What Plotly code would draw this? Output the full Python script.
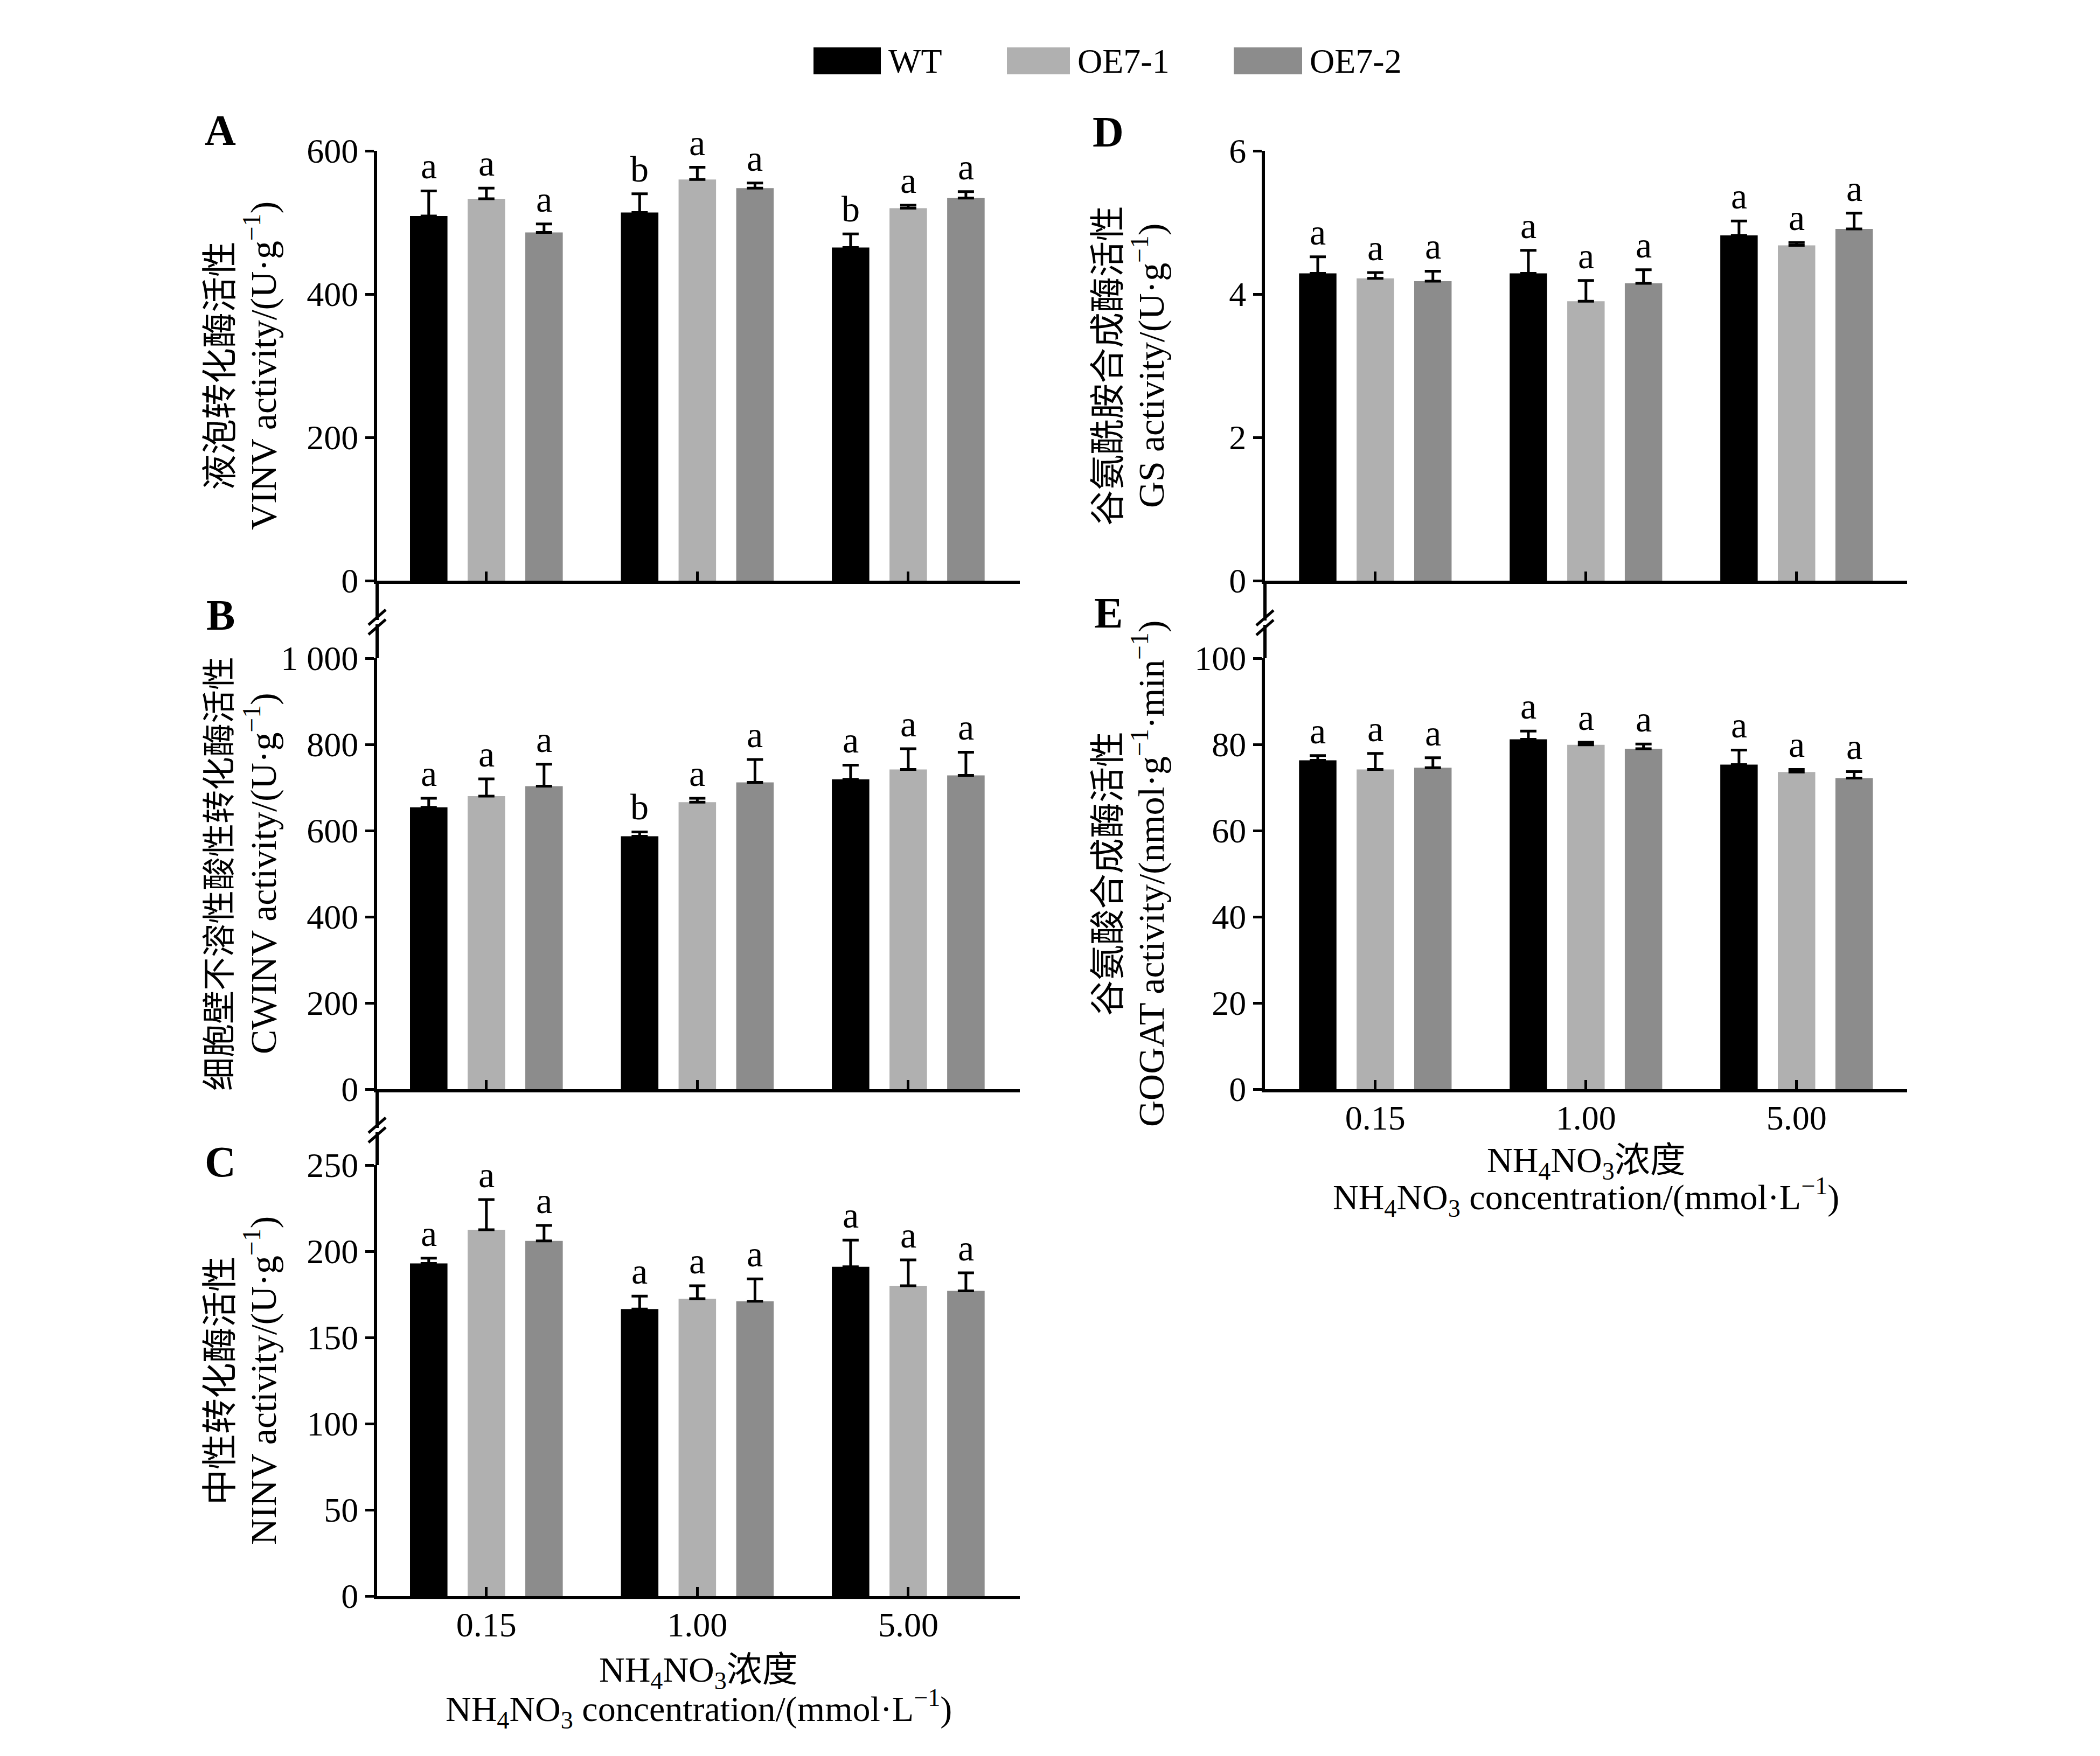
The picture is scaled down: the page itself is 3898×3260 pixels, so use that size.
import plotly.graph_objects as go

W, H = 3898, 3260

# ---- data ----
concentrations = ['0.15', '1.00', '5.00']
lines = ['WT', 'OE7-1', 'OE7-2']
colors = ['#000000', '#b0b0b0', '#8c8c8c']

# A  VINV (U/g)   rows: WT, OE7-1, OE7-2 ; cols: 0.15, 1.00, 5.00
vinv_mean = [[509, 514, 465], [533, 560, 520], [486, 548, 534]]
vinv_err = [[35, 26, 19], [15, 17, 4], [12, 7, 9]]
vinv_sig = [['a', 'b', 'b'], ['a', 'a', 'a'], ['a', 'a', 'a']]

# B  CWINV (U/g)
cwinv_mean = [[654, 587, 719], [680, 666, 742], [703, 712, 728]]
cwinv_err = [[21, 10, 33], [40, 9, 48], [51, 53, 54]]
cwinv_sig = [['a', 'b', 'a'], ['a', 'a', 'a'], ['a', 'a', 'a']]

# C  NINV (U/g)
ninv_mean = [[193, 166.5, 191], [212.5, 172.5, 180], [206, 171, 177]]
ninv_err = [[3, 7.5, 15.5], [17.5, 7.5, 15], [9, 13, 10.5]]
ninv_sig = [['a', 'a', 'a'], ['a', 'a', 'a'], ['a', 'a', 'a']]

# D  GS (U/g)
gs_mean = [[4.29, 4.29, 4.82], [4.22, 3.90, 4.68], [4.18, 4.15, 4.91]]
gs_err = [[0.23, 0.32, 0.20], [0.08, 0.29, 0.04], [0.14, 0.19, 0.22]]
gs_sig = [['a', 'a', 'a'], ['a', 'a', 'a'], ['a', 'a', 'a']]

# E  GOGAT (nmol/g/min)
gogat_mean = [[76.3, 81.2, 75.3], [74.2, 79.9, 73.6], [74.6, 79.0, 72.2]]
gogat_err = [[1.1, 1.9, 3.4], [3.7, 0.6, 0.6], [2.3, 1.1, 1.5]]
gogat_sig = [['a', 'a', 'a'], ['a', 'a', 'a'], ['a', 'a', 'a']]

ticks_A = [0, 200, 400, 600]
ticks_B = [0, 200, 400, 600, 800, 1000]
ticktext_B = ['0', '200', '400', '600', '800', '1 000']
ticks_C = [0, 50, 100, 150, 200, 250]
ticks_D = [0, 2, 4, 6]
ticks_E = [0, 20, 40, 60, 80, 100]

FONT = 'Liberation Serif, Noto Sans CJK SC, serif'
FS = 64          # tick labels, legend
FS_TITLE = 68    # y-axis titles
FS_XT = 66       # x-axis titles
FS_SIG = 68      # significance letters
BARGAP = 0.18


def px_x(p):
    return p / W


def px_y(p):
    return 1 - p / H


panels = [
    dict(key='A', mean=vinv_mean, err=vinv_err, sig=vinv_sig, xpx=(700, 1893), ypx=(280, 1078),
         xr=[-0.518, 2.529], yr=[0, 600], tv=ticks_A, tt=None, xlabels=False,
         lab_y=242, zh_size=66, xt=None,
         zh='液泡转化酶活性', en='VINV activity/(U·g<sup>−1</sup>)'),
    dict(key='B', mean=cwinv_mean, err=cwinv_err, sig=cwinv_sig, xpx=(700, 1893), ypx=(1222, 2022),
         xr=[-0.518, 2.529], yr=[0, 1000], tv=ticks_B, tt=ticktext_B, xlabels=False,
         lab_y=1142, zh_size=62, xt=None,
         zh='细胞壁不溶性酸性转化酶活性', en='CWINV activity/(U·g<sup>−1</sup>)'),
    dict(key='C', mean=ninv_mean, err=ninv_err, sig=ninv_sig, xpx=(700, 1893), ypx=(2163, 2963),
         xr=[-0.518, 2.529], yr=[0, 250], tv=ticks_C, tt=None, xlabels=True,
         lab_y=2157, zh_size=66, xt=(3104, 3172),
         zh='中性转化酶活性', en='NINV activity/(U·g<sup>−1</sup>)'),
    dict(key='D', mean=gs_mean, err=gs_err, sig=gs_sig, xpx=(2348, 3540), ypx=(280, 1078),
         xr=[-0.524, 2.525], yr=[0, 6], tv=ticks_D, tt=None, xlabels=False,
         lab_y=245, zh_size=66, xt=None,
         zh='谷氨酰胺合成酶活性', en='GS activity/(U·g<sup>−1</sup>)'),
    dict(key='E', mean=gogat_mean, err=gogat_err, sig=gogat_sig, xpx=(2348, 3540), ypx=(1222, 2022),
         xr=[-0.524, 2.525], yr=[0, 100], tv=ticks_E, tt=None, xlabels=True,
         lab_y=1138, zh_size=66, xt=(2158, 2222),
         zh='谷氨酸合成酶活性', en='GOGAT activity/(nmol·g<sup>−1</sup>·min<sup>−1</sup>)'),
]

fig = go.Figure()
annotations = []
shapes = []

for n, p in enumerate(panels, start=1):
    xa = 'x' if n == 1 else f'x{n}'
    ya = 'y' if n == 1 else f'y{n}'
    for j, name in enumerate(lines):
        fig.add_trace(go.Bar(
            x=concentrations, y=p['mean'][j], name=name,
            marker=dict(color=colors[j], line=dict(width=0)),
            error_y=dict(type='data', symmetric=False, array=p['err'][j],
                         arrayminus=[0] * len(concentrations),
                         color='black', thickness=5, width=15),
            xaxis=xa, yaxis=ya, showlegend=False,
        ))
        # significance letters above each error bar
        for i in range(len(concentrations)):
            annotations.append(dict(
                x=i + (j - 1) * (1 - BARGAP) / 3, y=p['mean'][j][i] + p['err'][j][i],
                xref=xa, yref=ya, text=p['sig'][j][i], showarrow=False,
                yanchor='bottom', yshift=6, font=dict(family=FONT, size=FS_SIG, color='black'),
            ))

    axn = '' if n == 1 else str(n)
    fig.layout[f'xaxis{axn}'] = dict(
        domain=[px_x(p['xpx'][0]), px_x(p['xpx'][1])], anchor=ya, range=p['xr'],
        type='category', showline=True, linecolor='black', linewidth=6,
        ticks='inside', ticklen=17, tickwidth=5, tickcolor='black',
        showticklabels=p['xlabels'], ticklabelstandoff=-8,
        showgrid=False, zeroline=False, automargin=False,
        tickfont=dict(family=FONT, size=FS, color='black'),
    )
    fig.layout[f'yaxis{axn}'] = dict(
        domain=[px_y(p['ypx'][1]), px_y(p['ypx'][0])], anchor=xa, range=p['yr'],
        tickmode='array', tickvals=p['tv'], ticktext=p['tt'] if p['tt'] else [str(v) for v in p['tv']],
        showline=True, linecolor='black', linewidth=6,
        ticks='outside', ticklen=16, tickwidth=5, tickcolor='black',
        showgrid=False, zeroline=False, automargin=False,
        tickfont=dict(family=FONT, size=FS, color='black'),
    )

    # y-axis titles (Chinese line + English line)
    left = p['xpx'][0]
    ymid = px_y((p['ypx'][0] + p['ypx'][1]) / 2)
    annotations.append(dict(x=px_x(left - 292), y=ymid, xref='paper', yref='paper',
                            text=p['zh'], textangle=-90, showarrow=False,
                            xanchor='center', yanchor='middle',
                            font=dict(family=FONT, size=p['zh_size'], color='black')))
    annotations.append(dict(x=px_x(left - 216), y=ymid, xref='paper', yref='paper',
                            text=p['en'], textangle=-90, showarrow=False,
                            xanchor='center', yanchor='middle',
                            font=dict(family=FONT, size=FS_TITLE, color='black')))
    # panel letter
    annotations.append(dict(x=px_x(left - 291), y=px_y(p['lab_y']), xref='paper', yref='paper',
                            text=f"<b>{p['key']}</b>", showarrow=False,
                            xanchor='center', yanchor='middle',
                            font=dict(family=FONT, size=80, color='black')))
    # x-axis titles for bottom panels
    if p['xt']:
        xmid = px_x((p['xpx'][0] + p['xpx'][1]) / 2)
        annotations.append(dict(x=xmid, y=px_y(p['xt'][0]), xref='paper', yref='paper',
                                text='NH<sub>4</sub>NO<sub>3</sub>浓度', showarrow=False,
                                xanchor='center', yanchor='middle',
                                font=dict(family=FONT, size=FS_XT, color='black')))
        annotations.append(dict(x=xmid, y=px_y(p['xt'][1]), xref='paper', yref='paper',
                                text='NH<sub>4</sub>NO<sub>3</sub> concentration/(mmol·L<sup>−1</sup>)',
                                showarrow=False, xanchor='center', yanchor='middle',
                                font=dict(family=FONT, size=FS_XT, color='black')))


# axis continuation between stacked panels, with break marks
def axis_break(xp, y_top, y_bot, y_mid):
    for y0, y1 in [(y_top, y_mid - 4), (y_mid + 4, y_bot)]:
        shapes.append(dict(type='line', xref='paper', yref='paper',
                           x0=px_x(xp), x1=px_x(xp), y0=px_y(y0), y1=px_y(y1),
                           line=dict(color='black', width=6)))
    for dy in (-9, 9):
        shapes.append(dict(type='line', xref='paper', yref='paper',
                           x0=px_x(xp - 16), y0=px_y(y_mid + dy + 14),
                           x1=px_x(xp + 16), y1=px_y(y_mid + dy - 14),
                           line=dict(color='black', width=5)))


axis_break(700, 1078, 1222, 1155)
axis_break(700, 2022, 2163, 2098)
axis_break(2348, 1078, 1222, 1156)

# legend drawn as swatches + labels
legend_boxes = [(1510, 1635), (1869, 1986), (2290, 2417)]
for (x0, x1), name, col in zip(legend_boxes, lines, colors):
    shapes.append(dict(type='rect', xref='paper', yref='paper',
                       x0=px_x(x0), x1=px_x(x1), y0=px_y(138), y1=px_y(88),
                       fillcolor=col, line=dict(width=0)))
    annotations.append(dict(x=px_x(x1 + 12), y=px_y(113), xref='paper', yref='paper',
                            text=name, showarrow=False, xanchor='left', yanchor='middle',
                            font=dict(family=FONT, size=FS, color='black')))

fig.update_layout(
    template='none',
    width=W, height=H, autosize=False,
    margin=dict(l=0, r=0, t=0, b=0, pad=0),
    paper_bgcolor='white', plot_bgcolor='white',
    barmode='group', bargap=BARGAP, bargroupgap=0.35,
    annotations=annotations, shapes=shapes,
    font=dict(family=FONT, size=FS, color='black'),
    showlegend=False,
)

fig.write_html("out.html", config={'displayModeBar': False},
               post_script="document.body.style.margin='0';")
